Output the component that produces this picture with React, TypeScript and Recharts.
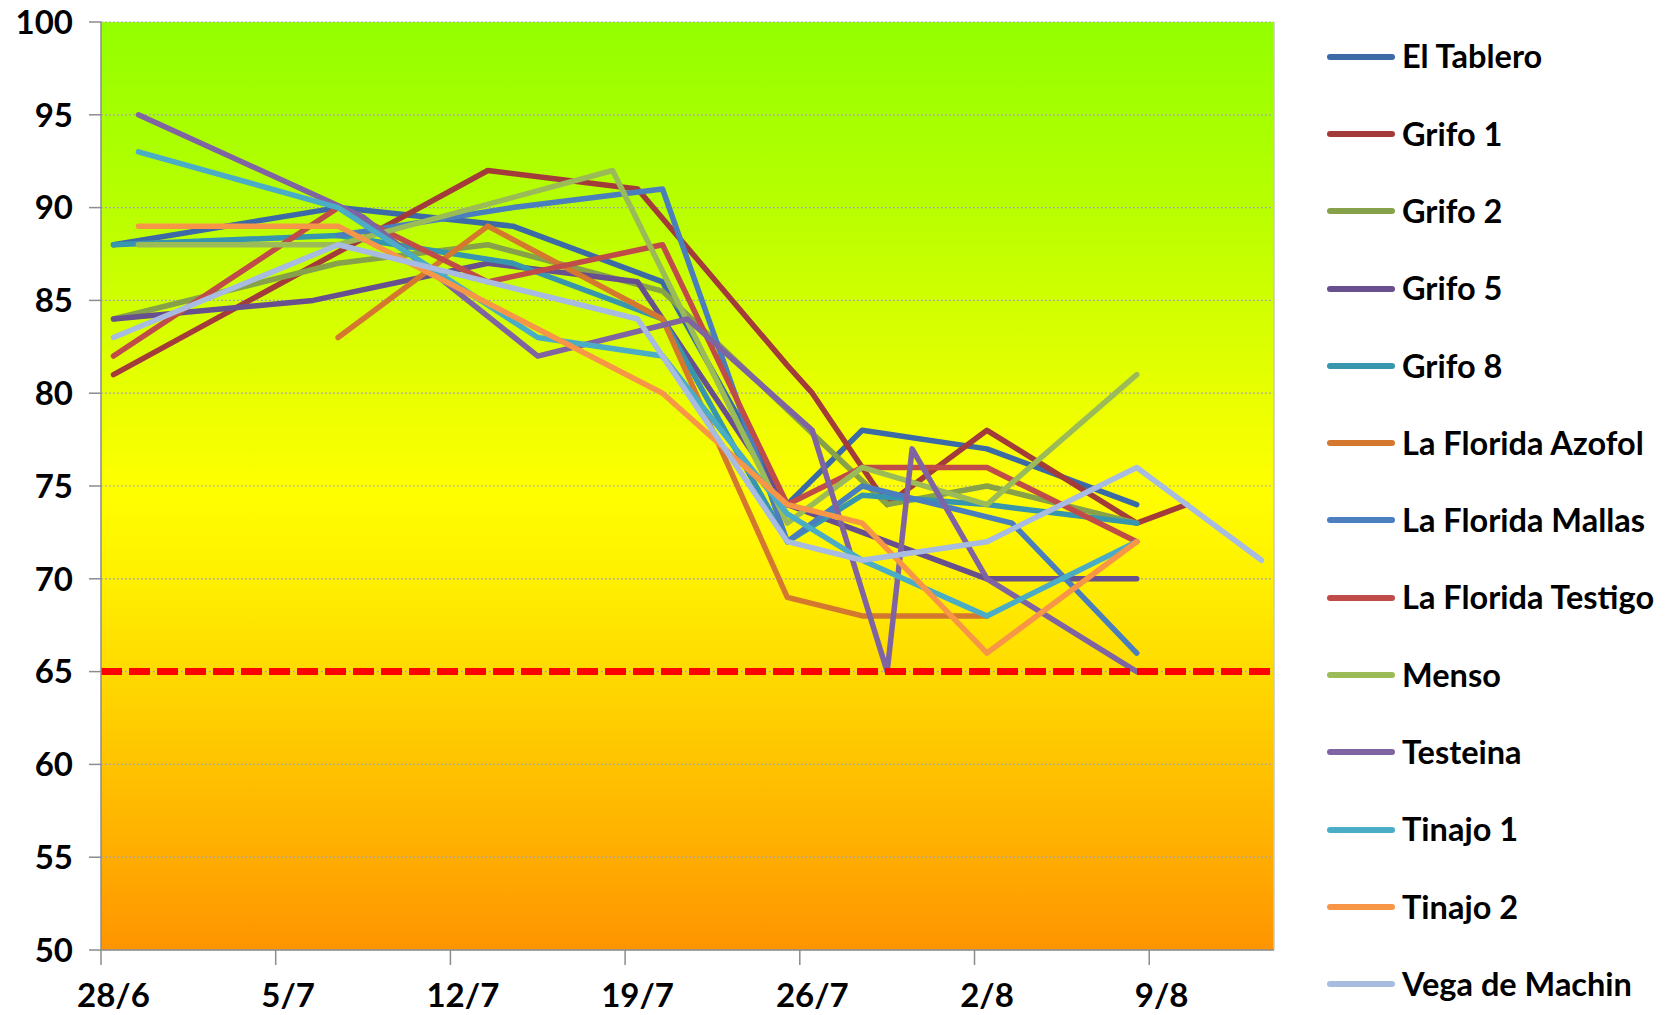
import React from "react";
import { LineChart, Line, XAxis, YAxis, CartesianGrid, ReferenceLine } from "recharts";

const _ = null;

// sampling dates (day/month)
const sampleDates = ["28/6", "29/6", "6/7", "7/7", "8/7", "13/7", "14/7", "15/7", "18/7", "19/7", "20/7", "21/7", "25/7", "26/7", "28/7", "29/7", "30/7", "2/8", "3/8", "8/8", "10/8", "13/8"];
const xTickLabels = ["28/6", "5/7", "12/7", "19/7", "26/7", "2/8", "9/8"];
const yTickValues = [50, 55, 60, 65, 70, 75, 80, 85, 90, 95, 100];
const thresholdValue = 65;
const axisStartLabel = "28/6";
const axisEndLabel = "13/8";

const seriesNames = ["El Tablero", "Grifo 1", "Grifo 2", "Grifo 5", "Grifo 8", "La Florida Azofol", "La Florida Mallas", "La Florida Testigo", "Menso", "Testeina", "Tinajo 1", "Tinajo 2", "Vega de Machin"];
const seriesColors = ["#3C6AA6", "#A33B3A", "#86A14A", "#684F8D", "#3795AE", "#D5782F", "#4A7EBD", "#BF4C49", "#9BBB59", "#8064A2", "#4BACC6", "#F79646", "#A8BBE0"];

//                   28/6 29/6 6/7 7/7 8/7 13/7 14/7 15/7 18/7 19/7 20/7 21/7 25/7 26/7 28/7 29/7 30/7 2/8 3/8 8/8 10/8 13/8
const elTablero =   [88, _, _, 90, _, _, 89, _, _, _, 86, _, 74, _, 78, _, _, 77, _, 74, _, _];
const grifo1 =      [81, _, _, _, _, 92, _, _, _, 91, _, _, 81.5, 80, _, 74, _, 78, _, 73, 74, _];
const grifo2 =      [84, _, _, 87, _, 88, _, _, _, _, 85.5, _, _, _, _, 74, _, 75, _, 73, _, _];
const grifo5 =      [84, _, 85, _, _, 87, _, _, _, 86, _, _, 74, _, _, 72, _, 70, _, 70, _, _];
const grifo8 =      [88, _, _, 88.5, _, _, 87, _, _, _, 84, _, 72, _, 74.5, _, _, 74, _, 73, _, _];
const floridaAzofol = [_, _, _, 83, _, 89, _, _, _, _, 84, _, 69, _, 68, _, _, 68, _, _, _, _];
const floridaMallas = [_, _, _, 88.5, _, _, 90, _, _, _, 91, _, 72, _, 75, _, _, _, 73, 66, _, _];
const floridaTestigo = [82, _, _, 90, _, 86, _, _, _, _, 88, _, 74, _, 76, _, _, 76, _, 72, _, _];
const menso =       [_, 88, _, 88, _, _, _, _, 92, _, _, _, 73, _, 76, _, _, 74, _, 81, _, _];
const testeina =    [_, 95, _, _, 89.5, _, _, 82, _, _, _, 84, _, 78, _, 65, 77, 70, _, 65, _, _];
const tinajo1 =     [_, 93, _, 90, _, _, _, 83, _, _, 82, _, 73.5, _, 71, _, _, 68, _, 72, _, _];
const tinajo2 =     [_, 89, _, 89, _, _, _, _, _, _, 80, _, 74, _, 73, _, _, 66, _, 72, _, _];
const vegaMachin =  [83, _, _, 88, _, _, _, _, _, 84, _, _, 72, _, 71, _, _, 72, _, 76, _, 71];

const seriesValues = [elTablero, grifo1, grifo2, grifo5, grifo8, floridaAzofol, floridaMallas, floridaTestigo, menso, testeina, tinajo1, tinajo2, vegaMachin];

function dayOffset(label: string): number {
  const [d, m] = label.split("/").map(Number);
  return Math.round((Date.UTC(2000, m - 1, d) - Date.UTC(2000, 5, 28)) / 86400000);
}

const data = sampleDates.map((label, i) => {
  const row: Record<string, number | string | null> = { day: dayOffset(label), date: label };
  seriesNames.forEach((name, s) => {
    row[name] = seriesValues[s][i];
  });
  return row;
});

const xTickDays = xTickLabels.map(dayOffset);
const X_DOMAIN: [number, number] = [dayOffset(axisStartLabel) - 0.5, dayOffset(axisEndLabel) + 0.5];

const W = 1675;
const H = 1015;
const MARGIN = { top: 22, right: 401, bottom: 0, left: 0 };
const Y_AXIS_W = 101;
const X_AXIS_H = 65;
const PLOT_W = W - MARGIN.left - MARGIN.right - Y_AXIS_W;
const HALF_DAY = PLOT_W / (X_DOMAIN[1] - X_DOMAIN[0]) / 2;
const FONT = "Lato, 'Open Sans', sans-serif";
const AXIS_GREY = "#8c8c8c";
const LINE_W = 5.5;

function XTick(props: any) {
  const { x, y, payload } = props;
  const idx = xTickDays.indexOf(payload.value);
  return (
    <g>
      <line x1={x - HALF_DAY} x2={x - HALF_DAY} y1={y} y2={y + 15} stroke={AXIS_GREY} strokeWidth={1.5} />
      <text x={x} y={y + 57} textAnchor="middle" fontFamily={FONT} fontWeight={700} fontSize={33} fill="#000">
        {xTickLabels[idx]}
      </text>
    </g>
  );
}

export default function App() {
  return (
    <div style={{ position: "fixed", left: 0, top: 0, width: W, height: H, background: "#fff" }}>
      <svg width={0} height={0} style={{ position: "absolute" }}>
        <defs>
          <linearGradient id="plotBg" x1="0" y1="0" x2="0" y2="1">
            <stop offset="0" stopColor="#93FF00" />
            <stop offset="0.2" stopColor="#B8FF00" />
            <stop offset="0.4" stopColor="#E8FF00" />
            <stop offset="0.5" stopColor="#FFFF00" />
            <stop offset="0.6" stopColor="#FFF000" />
            <stop offset="0.7" stopColor="#FFDA00" />
            <stop offset="0.85" stopColor="#FFB800" />
            <stop offset="1" stopColor="#FF9500" />
          </linearGradient>
        </defs>
      </svg>
      <LineChart width={W} height={H} data={data} margin={MARGIN}>
        <CartesianGrid
          vertical={false}
          horizontal={true}
          fill="url(#plotBg)"
          fillOpacity={1}
          stroke="#a8a8a8"
          strokeDasharray="2 2"
          strokeWidth={1.2}
        />
        <XAxis
          type="number"
          dataKey="day"
          domain={X_DOMAIN}
          ticks={xTickDays}
          interval={0}
          height={X_AXIS_H}
          tickSize={0}
          tickMargin={0}
          tickLine={false}
          axisLine={{ stroke: AXIS_GREY, strokeWidth: 1.5 }}
          tick={<XTick />}
          allowDataOverflow
        />
        <YAxis
          type="number"
          domain={[50, 100]}
          ticks={yTickValues}
          interval={0}
          width={Y_AXIS_W}
          tickSize={12}
          tickMargin={16}
          axisLine={{ stroke: AXIS_GREY, strokeWidth: 1.5 }}
          tickLine={{ stroke: AXIS_GREY, strokeWidth: 1.5 }}
          tick={{ fontFamily: FONT, fontWeight: 700, fontSize: 33, fill: "#000" }}
          allowDataOverflow
        />
        <ReferenceLine x={X_DOMAIN[1]} stroke="#c8c8b0" strokeWidth={1.5} />
        {seriesNames.map((name, s) => (
          <Line
            key={name}
            type="linear"
            dataKey={name}
            stroke={seriesColors[s]}
            strokeWidth={LINE_W}
            strokeLinecap="round"
            strokeLinejoin="round"
            dot={false}
            activeDot={false}
            connectNulls
            isAnimationActive={false}
          />
        ))}
        <ReferenceLine y={thresholdValue} stroke="#FF0000" strokeWidth={7} strokeDasharray="21 7" />
      </LineChart>
      <div style={{ position: "absolute", left: 1326, top: 18 }}>
        {seriesNames.map((name, s) => (
          <div key={name} style={{ height: 77.3, display: "flex", alignItems: "center" }}>
            <svg width={70} height={10} style={{ display: "block" }}>
              <line x1={4} x2={66} y1={5} y2={5} stroke={seriesColors[s]} strokeWidth={6} strokeLinecap="round" />
            </svg>
            <span style={{ fontFamily: FONT, fontWeight: 700, fontSize: 32.5, lineHeight: 1, marginLeft: 6, color: "#000", whiteSpace: "nowrap" }}>
              {name}
            </span>
          </div>
        ))}
      </div>
    </div>
  );
}
